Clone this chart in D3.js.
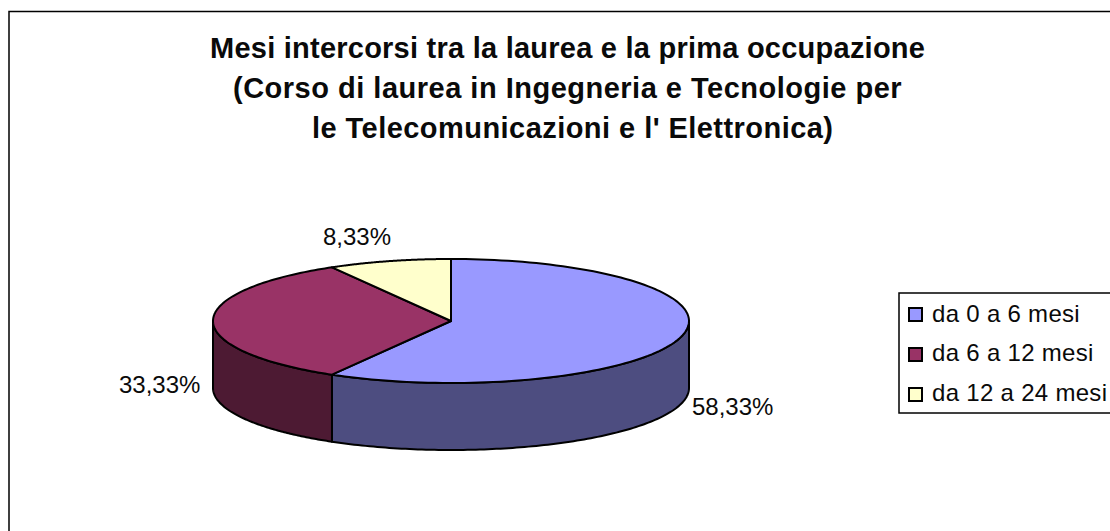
<!DOCTYPE html>
<html><head><meta charset="utf-8"><style>html,body{margin:0;padding:0;background:#fff;overflow:hidden}svg{display:block}text{font-family:"Liberation Sans",Arial,sans-serif;fill:#0a0a0a}</style></head><body>
<script src="https://cdnjs.cloudflare.com/ajax/libs/d3/7.9.0/d3.min.js"></script>
<script>
const categories = ["da 0 a 6 mesi", "da 6 a 12 mesi", "da 12 a 24 mesi"];
const values = [58.33, 33.33, 8.33];
const valueLabels = ["58,33%", "33,33%", "8,33%"];
const topColors = ["#9999ff", "#993366", "#ffffcc"];
const sideColors = ["#4d4d80", "#4d1a33", "#808066"];
const titleLines = ["Mesi intercorsi tra la laurea e la prima occupazione", "(Corso di laurea in Ingegneria e Tecnologie per", "le Telecomunicazioni e l' Elettronica)"];

const W = 1110, H = 531;
const svg = d3.select("body").append("svg").attr("width", W).attr("height", H);
svg.append("rect").attr("x", 9).attr("y", 11.5).attr("width", W + 20).attr("height", H + 20).attr("fill", "#fff").attr("stroke", "#000").attr("stroke-width", 1.5);

const titleX = [210, 233, 312];
const titleSpacing = [0.24, 0.5, 0.45];
svg.append("g").selectAll("text").data(titleLines).join("text")
  .attr("x", (d, i) => titleX[i]).attr("y", (d, i) => 58 + i * 40)
  .attr("font-size", 29).attr("font-weight", "bold").attr("letter-spacing", (d, i) => titleSpacing[i]).text(d => d);

const cx = 451, cy = 321, rx = 238, ry = 62, depth = 67;
const sx = d3.scaleLinear().domain([-1, 1]).range([cx - rx, cx + rx]);
const sy = d3.scaleLinear().domain([-1, 1]).range([cy - ry, cy + ry]);
const px = a => sx(Math.sin(a));
const py = a => sy(-Math.cos(a));
const arcs = d3.pie().sort(null).value(d => d)(values);
const line = d3.line();
const arcPts = (a0, a1, dy = 0) => d3.range(0, 121).map(i => {
  const a = a0 + (a1 - a0) * i / 120;
  return [px(a), py(a) + dy];
});

const g = svg.append("g").attr("stroke", "#000").attr("stroke-width", 2).attr("stroke-linejoin", "round");
arcs.forEach((d, i) => {
  const a0 = Math.max(d.startAngle, Math.PI / 2), a1 = Math.min(d.endAngle, 3 * Math.PI / 2);
  if (a1 <= a0) return;
  const pts = arcPts(a0, a1).concat(arcPts(a0, a1, depth).reverse());
  g.append("path").attr("d", line(pts) + "Z").attr("fill", sideColors[i]);
});
arcs.forEach((d, i) => {
  const pts = [[cx, cy]].concat(arcPts(d.startAngle, d.endAngle));
  g.append("path").attr("d", line(pts) + "Z").attr("fill", topColors[i]);
});

const labelPos = [[692, 415], [119, 393], [323, 245]];
svg.append("g").selectAll("text").data(valueLabels).join("text")
  .attr("x", (d, i) => labelPos[i][0]).attr("y", (d, i) => labelPos[i][1])
  .attr("font-size", 24).text(d => d);

const lx = 899, ly = 293;
svg.append("rect").attr("x", lx).attr("y", ly).attr("width", W).attr("height", 120).attr("fill", "#fff").attr("stroke", "#000").attr("stroke-width", 1.5);
const lg = svg.append("g").selectAll("g").data(categories).join("g");
lg.append("rect").attr("x", lx + 10).attr("y", (d, i) => ly + 15 + i * 40).attr("width", 13).attr("height", 13)
  .attr("fill", (d, i) => topColors[i]).attr("stroke", "#000").attr("stroke-width", 2);
lg.append("text").attr("x", lx + 33).attr("y", (d, i) => ly + 28.5 + i * 39.7).attr("font-size", 24).attr("letter-spacing", 0.3).text(d => d);
</script></body></html>
